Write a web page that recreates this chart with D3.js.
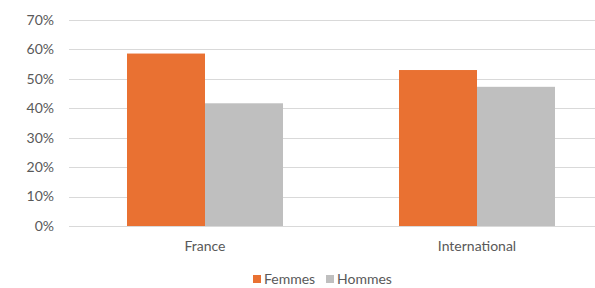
<!DOCTYPE html>
<html>
<head>
<meta charset="utf-8">
<script src="https://cdn.jsdelivr.net/npm/d3@7"></script>
<style>
  body { margin: 0; background: #fff; }
  svg { display: block; font-family: Lato, "Open Sans", sans-serif; }
</style>
</head>
<body>
<svg id="chart" width="595" height="288"></svg>
<script>
// chart data
const categories = ['France', 'International'];
const seriesNames = ['Femmes', 'Hommes'];
const femmes = [58.6, 53.0];
const hommes = [41.7, 47.3];
const yTicks = [0, 10, 20, 30, 40, 50, 60, 70];

const colors = { Femmes: '#E97132', Hommes: '#BFBFBF' };

const svg = d3.select('#chart');
const margin = { left: 69, top: 20, bottom: 62 };
const plotRight = 613; // chart continues past the visible edge
const h = 288 - margin.bottom;

const x0 = d3.scaleBand().domain(categories).range([margin.left, plotRight]);
const x1 = d3.scaleBand().domain(seriesNames).range([0, 156]);
const y = d3.scaleLinear().domain([0, 70]).range([h, margin.top]);

// gridlines
svg.append('g')
    .selectAll('line')
    .data(yTicks)
    .enter()
    .append('line')
    .attr('x1', margin.left)
    .attr('x2', 595)
    .attr('y1', d => Math.round(y(d)) + 0.5)
    .attr('y2', d => Math.round(y(d)) + 0.5)
    .attr('stroke', '#D9D9D9')
    .attr('stroke-width', 1);

// y labels
svg.append('g')
    .selectAll('text')
    .data(yTicks)
    .enter()
    .append('text')
    .attr('x', 54)
    .attr('y', d => y(d))
    .attr('dy', '0.35em')
    .attr('text-anchor', 'end')
    .attr('font-size', 14)
    .attr('fill', '#595959')
    .text(d => d + '%');

// bars
const rows = categories.map((c, i) => ({ cat: c, Femmes: femmes[i], Hommes: hommes[i] }));
const groups = svg.append('g')
    .selectAll('g')
    .data(rows)
    .enter()
    .append('g')
    .attr('transform', d => `translate(${x0(d.cat) + (x0.bandwidth() - 156) / 2},0)`);

groups.selectAll('rect')
    .data(d => seriesNames.map(s => ({ s, v: d[s] })))
    .enter()
    .append('rect')
    .attr('x', d => x1(d.s))
    .attr('width', x1.bandwidth())
    .attr('y', d => y(d.v))
    .attr('height', d => y(0) - y(d.v))
    .attr('fill', d => colors[d.s]);

// category labels
svg.append('g')
    .selectAll('text')
    .data(categories)
    .enter()
    .append('text')
    .attr('x', d => x0(d) + x0.bandwidth() / 2)
    .attr('y', 251)
    .attr('text-anchor', 'middle')
    .attr('font-size', 14)
    .attr('fill', '#595959')
    .text(d => d);

// legend
const legend = svg.append('g').attr('transform', 'translate(253,274)');
const legendX = [0, 73];
seriesNames.forEach((s, i) => {
    const g = legend.append('g').attr('transform', `translate(${legendX[i]},0)`);
    g.append('rect').attr('width', 8).attr('height', 8).attr('y', 1).attr('fill', colors[s]);
    g.append('text')
        .attr('x', 11)
        .attr('y', 5)
        .attr('dy', '0.35em')
        .attr('font-size', 14)
        .attr('fill', '#595959')
        .text(s);
});
</script>
</body>
</html>
